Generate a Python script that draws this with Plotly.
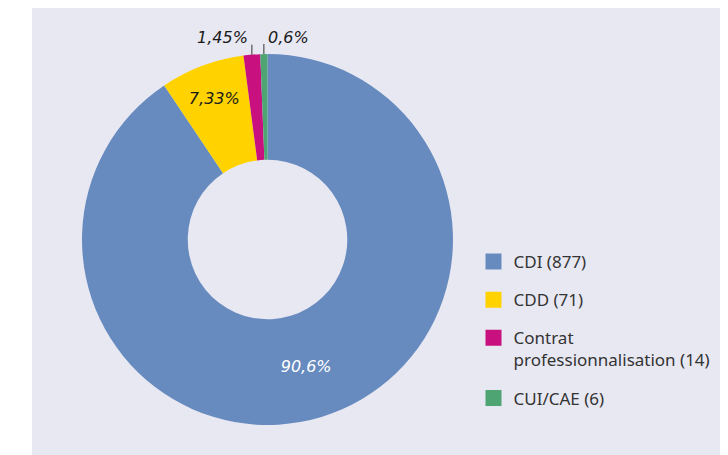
import math
import plotly.graph_objects as go

categories = ["CDI (877)", "CDD (71)", "Contrat<br>professionnalisation (14)", "CUI/CAE (6)"]
values = [877, 71, 14, 6]
pct_labels = ["90,6%", "7,33%", "1,45%", "0,6%"]
colors = ["#678bbf", "#ffd200", "#c8107e", "#4fa474"]
text_positions = ["inside", "inside", "none", "none"]
text_colors = ["#ffffff", "#1a1a1a", "#1a1a1a", "#1a1a1a"]
# small slices labelled outside with a short leader: side of the leader the label sits on
outside_side = {2: "right", 3: "left"}

# page offset of the plot inside the HTML body (default 8px body margin)
W, H = 720, 447

# pie geometry in figure pixels
cx, cy, R = 259.5, 231.5, 185.5
dom_x = [(cx - R) / W, (cx + R) / W]
dom_y = [(H - cy - R) / H, (H - cy + R) / H]

fig = go.Figure()

fig.add_trace(go.Pie(
    labels=categories,
    values=values,
    text=pct_labels,
    textinfo="text",
    textposition=text_positions,
    insidetextorientation="horizontal",
    textfont=dict(family="DejaVu Sans", size=16, color=text_colors, style="italic"),
    marker=dict(colors=colors, line=dict(width=0)),
    hole=0.43,
    sort=False,
    direction="clockwise",
    rotation=0,
    showlegend=False,
    hoverinfo="label+value",
    domain=dict(x=dom_x, y=dom_y),
))

# legend entries
for i, (cat, col) in enumerate(zip(categories, colors)):
    fig.add_trace(go.Scatter(
        x=[None], y=[None], mode="markers", name=cat,
        marker=dict(symbol="square", size=18, color=col),
        legendgroup=f"g{i}", showlegend=True, hoverinfo="skip",
    ))

# leader lines + labels for the small slices, positioned from the data
total = sum(values)
shapes = [
    dict(type="rect", xref="paper", yref="paper", x0=0, x1=24 / W, y0=0, y1=1,
         fillcolor="#ffffff", line=dict(width=0), layer="above"),
]
annotations = []
cum = 0
for i, v in enumerate(values):
    mid = (cum + v / 2) / total
    cum += v
    if i not in outside_side:
        continue
    ang = 2 * math.pi * mid
    ex = cx + R * math.sin(ang)
    ey = cy - R * math.cos(ang)
    top = ey - 10
    shapes.append(dict(type="line", xref="paper", yref="paper",
                       x0=ex / W, x1=ex / W, y0=(H - ey) / H, y1=(H - top) / H,
                       line=dict(color="#333333", width=1)))
    side = outside_side[i]
    annotations.append(dict(
        xref="paper", yref="paper", x=ex / W, y=(H - top) / H,
        text=pct_labels[i], showarrow=False,
        xanchor=side, yanchor="middle",
        xshift=-2 if side == "right" else 2, yshift=7,
        font=dict(family="DejaVu Sans", size=16, color="#1a1a1a", style="italic"),
    ))

fig.update_layout(
    width=W, height=H,
    margin=dict(l=0, r=0, t=0, b=0),
    paper_bgcolor="#e8e8f2",
    plot_bgcolor="rgba(0,0,0,0)",
    xaxis=dict(visible=False),
    yaxis=dict(visible=False),
    legend=dict(
        x=465.5 / W, xanchor="left",
        y=1 - 236 / H, yanchor="top",
        bgcolor="rgba(0,0,0,0)",
        font=dict(family="Noto Sans", size=17, color="#333333"),
        tracegroupgap=13,
        valign="top",
        itemclick=False, itemdoubleclick=False,
    ),
    shapes=shapes,
    annotations=annotations,
)

fig.write_html("out.html")
